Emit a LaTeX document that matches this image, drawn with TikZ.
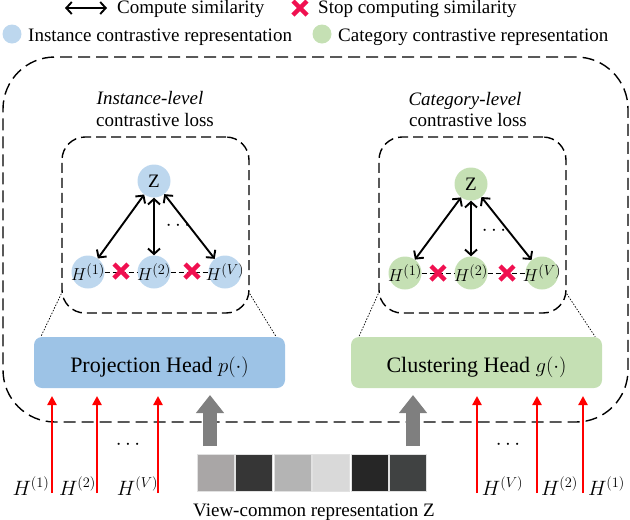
\documentclass[tikz,border=0pt]{standalone}
\usepackage{fontspec}
\setmainfont{Liberation Serif}
\usetikzlibrary{arrows.meta,calc}
\definecolor{boxblue}{RGB}{157,195,230}
\definecolor{boxgreen}{RGB}{197,224,180}
\definecolor{cirblue}{RGB}{189,215,238}
\definecolor{cirgreen}{RGB}{197,224,180}
\definecolor{xred}{RGB}{240,16,80}
\definecolor{arrgray}{RGB}{127,127,127}
\definecolor{sqa}{RGB}{169,166,166}
\definecolor{sqb}{RGB}{54,54,54}
\definecolor{sqc}{RGB}{180,180,180}
\definecolor{sqd}{RGB}{217,217,217}
\definecolor{sqe}{RGB}{38,38,38}
\definecolor{sqf}{RGB}{64,66,66}
\definecolor{sqborder}{RGB}{225,225,225}
\begin{document}
\begin{tikzpicture}[x=1pt,y=-1pt,
  txt/.style={font=\fontsize{19}{22}\selectfont, inner sep=0pt},
  headtxt/.style={font=\fontsize{22}{26}\selectfont, inner sep=0pt},
  mtxt/.style={font=\fontsize{19}{22}\selectfont, inner sep=0pt},
  btxt/.style={font=\fontsize{20.5}{24}\selectfont, inner sep=0pt},
  dtxt/.style={font=\fontsize{22}{24}\selectfont, inner sep=0pt},
  hcirc/.style={circle, minimum size=33pt, inner sep=0pt},
  bluecirc/.style={hcirc, fill=cirblue},
  greencirc/.style={hcirc, fill=cirgreen},
  outerbox/.style={draw, line width=1.4pt, dash pattern=on 12pt off 6pt, rounded corners=52pt, minimum width=625pt, minimum height=365pt, inner sep=0pt},
  innerbox/.style={draw, line width=1.4pt, dash pattern=on 10pt off 5pt, rounded corners=23pt, minimum width=187pt, minimum height=176pt, inner sep=0pt},
  headbox/.style={rounded corners=8pt, minimum width=251pt, minimum height=51pt, inner sep=0pt},
  sim/.style={{Straight Barb[length=5.5pt,width=12pt]}-{Straight Barb[length=5.5pt,width=12pt]}, line width=1.9pt},
  hlink/.style={line width=1pt, dash pattern=on 5pt off 3pt},
  zoomline/.style={line width=0.7pt, dash pattern=on 1.5pt off 1.5pt},
  redarr/.style={-{Triangle[length=9pt,width=9pt]}, red, line width=2.4pt},
  grayarr/.style={-{Triangle[length=18pt,width=27pt]}, arrgray, line width=14pt},
  sq/.style={draw=sqborder, line width=1pt, minimum width=37pt, minimum height=37pt, inner sep=0pt},
  stopx/.pic={\draw[xred, line width=4.5pt] (-7,-7)--(7,7) (-7,7)--(7,-7);}
]
\useasboundingbox (0,0) rectangle (630,520);

% legend
\coordinate (lgA) at (65,8);
\coordinate (lgB) at (107,8);
\draw[sim] (lgA) -- (lgB);
\node[txt, anchor=base west] (lgt1) at (117,13.5) {Compute similarity};
\pic at (300,8) {stopx};
\node[txt, anchor=base west] (lgt2) at (318,13.5) {Stop computing similarity};
\node[circle, fill=cirblue, minimum size=19pt, inner sep=0pt] (lgc1) at (12,34) {};
\node[txt, anchor=base west] (lgt3) at (28,41) {Instance contrastive representation};
\node[circle, fill=cirgreen, minimum size=19pt, inner sep=0pt] (lgc2) at (322,34) {};
\node[txt, anchor=base west] (lgt4) at (338,41) {Category contrastive representation};

% outer box
\node[outerbox] (outer) at (315.5,239.5) {};

% inner boxes
\node[innerbox] (inL) at (155.5,225) {};
\node[innerbox] (inR) at (472.5,225) {};

% titles
\node[txt, anchor=base] (tL1) at (150,104) {\itshape Instance-level};
\node[txt, anchor=base] (tL2) at (155,126) {contrastive loss};
\node[txt, anchor=base] (tR1) at (465,105) {\itshape Category-level};
\node[txt, anchor=base] (tR2) at (468,126) {contrastive loss};

% left graph
\node[bluecirc] (zL) at (154,181) {};
\node[txt] at (zL) {Z};
\node[bluecirc] (h1L) at (88,272) {};
\node[bluecirc] (h2L) at (154,272) {};
\node[bluecirc] (hvL) at (225,272) {};
\draw[hlink] (h1L) -- (h2L);
\draw[hlink] (h2L) -- (hvL);
\node[mtxt] at (h1L) {$H^{(1)}$};
\node[mtxt] at (h2L) {$H^{(2)}$};
\node[mtxt] at (hvL) {$H^{(V)}$};
\draw[sim] (zL) -- (h1L);
\draw[sim] (zL) -- (h2L);
\draw[sim] (zL) -- (hvL);
\node[dtxt] (dotL) at (178,226) {$\cdots$};
\pic at (121,271) {stopx};
\pic at (192,271) {stopx};

% right graph
\node[greencirc] (zR) at (471,184) {};
\node[txt] at (zR) {Z};
\node[greencirc] (h1R) at (405,273) {};
\node[greencirc] (h2R) at (471,273) {};
\node[greencirc] (hvR) at (542,273) {};
\draw[hlink] (h1R) -- (h2R);
\draw[hlink] (h2R) -- (hvR);
\node[mtxt] at (h1R) {$H^{(1)}$};
\node[mtxt] at (h2R) {$H^{(2)}$};
\node[mtxt] at (hvR) {$H^{(V)}$};
\draw[sim] (zR) -- (h1R);
\draw[sim] (zR) -- (h2R);
\draw[sim] (zR) -- (hvR);
\node[dtxt] (dotR) at (494,231) {$\cdots$};
\pic at (438,273) {stopx};
\pic at (507,273) {stopx};

% heads
\node[headbox, fill=boxblue] (ph) at (159.5,362.5) {};
\node[headtxt, anchor=base] at (159.5,372) {Projection Head $p(\cdot)$};
\node[headbox, fill=boxgreen] (ch) at (476.5,362.5) {};
\node[headtxt, anchor=base] at (476.5,372) {Clustering Head $g(\cdot)$};

% zoom lines
\draw[zoomline] ($(inL.south west)+(0,-20)$) -- ($(ph.north west)+(7,0)$);
\draw[zoomline] ($(inL.south east)+(0,-20)$) -- ($(ph.north east)+(-9,0)$);
\draw[zoomline] ($(inR.south west)+(0,-20)$) -- ($(ch.north west)+(8,0)$);
\draw[zoomline] ($(inR.south east)+(0,-20)$) -- ($(ch.north east)+(-7,0)$);

% red input arrows
\foreach \xx/\nm in {52/a,97/b,158/c,477/d,537/e,583/f}{
  \coordinate (rs\nm) at (\xx,493);
  \coordinate (rt\nm) at (\xx,396);
  \draw[redarr] (rs\nm) -- (rt\nm);
}
\node[btxt, anchor=base] (lb1) at (31,495) {$H^{(1)}$};
\node[btxt, anchor=base] (lb2) at (77.5,495) {$H^{(2)}$};
\node[btxt, anchor=base] (lb3) at (137.5,495) {$H^{(V)}$};
\node[btxt, anchor=base] (rb3) at (502.5,495) {$H^{(V)}$};
\node[btxt, anchor=base] (rb2) at (559.5,495) {$H^{(2)}$};
\node[btxt, anchor=base] (rb1) at (606.5,495) {$H^{(1)}$};
\node[dtxt] (dotBL) at (128,445) {$\cdots$};
\node[dtxt] (dotBR) at (508,445) {$\cdots$};

% view-common representation
\node[sq, fill=sqa] (sq1) at (215.5,472.5) {};
\node[sq, fill=sqb] (sq2) at (254,472.5) {};
\node[sq, fill=sqc] (sq3) at (292.5,472.5) {};
\node[sq, fill=sqd] (sq4) at (331,472.5) {};
\node[sq, fill=sqe] (sq5) at (369.5,472.5) {};
\node[sq, fill=sqf] (sq6) at (408,472.5) {};
\coordinate (gaS) at (210,446);
\coordinate (gaT) at (210,395);
\coordinate (gbS) at (413,446);
\coordinate (gbT) at (413,395);
\draw[grayarr] (gaS) -- (gaT);
\draw[grayarr] (gbS) -- (gbT);
\node[txt, anchor=base] (cap) at (314,516) {View-common representation Z};
\end{tikzpicture}
\end{document}
